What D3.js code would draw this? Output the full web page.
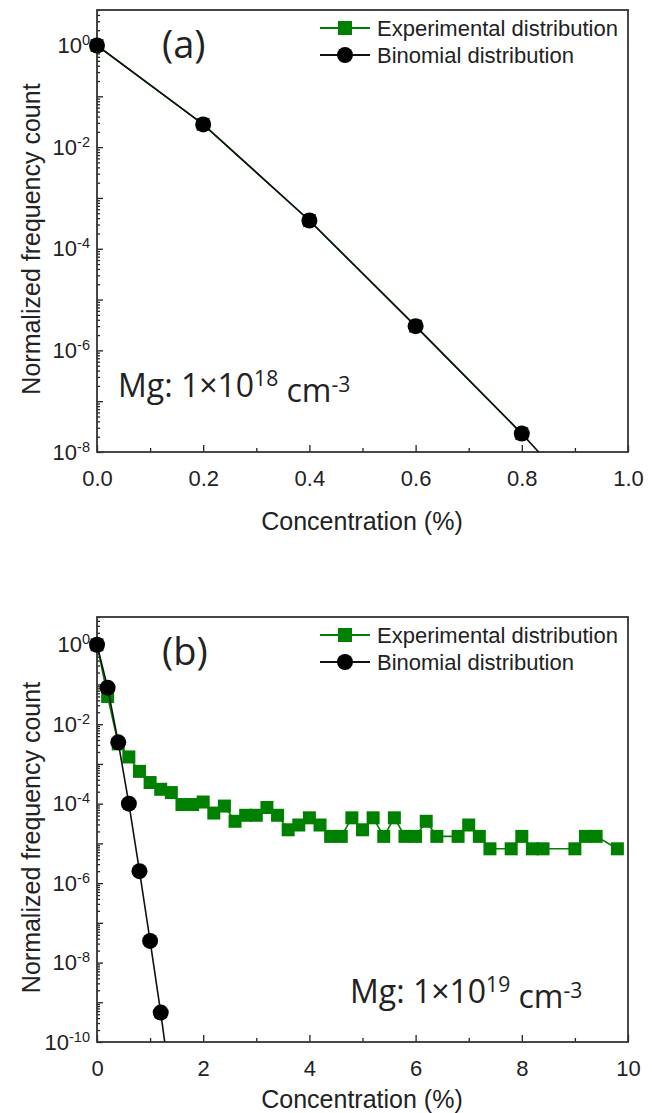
<!DOCTYPE html>
<html>
<head>
<meta charset="utf-8">
<script src="https://cdn.jsdelivr.net/npm/d3@7"></script>
<style>
  body { margin: 0; background: #fff; }
  text { font-family: "Liberation Sans", Arial, sans-serif; fill: #222; }
  .note { font-family: "Open Sans", sans-serif; }
</style>
</head>
<body>
<svg width="652" height="1113"></svg>
<script>
// ---- data, panel (a) Mg 1e18
const concA = [0, 0.2, 0.4, 0.6, 0.8, 1.0];
const expA = [1, 2.8e-2, 3.6e-4, 3.0e-6, 2.3e-8, null];
const binA = [1, 2.8e-2, 3.6e-4, 3.0e-6, 2.3e-8, 1.2e-10];
const xTicksA = [0, 0.2, 0.4, 0.6, 0.8, 1.0];
const yExpA = [0, -2, -4, -6, -8];

// ---- data, panel (b) Mg 1e19
const concB = [0, 0.2, 0.4, 0.6, 0.8, 1.0, 1.2, 1.4, 1.6, 1.8,
  2.0, 2.2, 2.4, 2.6, 2.8, 3.0, 3.2, 3.4, 3.6, 3.8,
  4.0, 4.2, 4.4, 4.6, 4.8, 5.0, 5.2, 5.4, 5.6, 5.8,
  6.0, 6.2, 6.4, 6.6, 6.8, 7.0, 7.2, 7.4, 7.6, 7.8,
  8.0, 8.2, 8.4, 8.6, 8.8, 9.0, 9.2, 9.4, 9.6, 9.8, 10.0];
const expB = [1, 5.0e-2, 3.2e-3, 1.5e-3, 6.5e-4, 3.4e-4, 2.3e-4, 1.9e-4, 9.5e-5, 9.5e-5,
  1.1e-4, 5.8e-5, 8.7e-5, 3.6e-5, 5.1e-5, 5.1e-5, 8.0e-5, 5.1e-5, 2.2e-5, 2.9e-5,
  4.4e-5, 2.9e-5, 1.5e-5, 1.5e-5, 4.4e-5, 2.2e-5, 4.4e-5, 1.5e-5, 4.4e-5, 1.5e-5,
  1.5e-5, 3.6e-5, 1.5e-5, null, 1.5e-5, 2.9e-5, 1.5e-5, 7.3e-6, null, 7.3e-6,
  1.5e-5, 7.3e-6, 7.3e-6, null, null, 7.3e-6, 1.5e-5, 1.5e-5, null, 7.3e-6, null];
const binConcB = [0, 0.2, 0.4, 0.6, 0.8, 1.0, 1.2, 1.4];
const binB = [1, 8.3e-2, 3.5e-3, 1.0e-4, 2.0e-6, 3.5e-8, 5.5e-10, 6.0e-12];
const xTicksB = [0, 2, 4, 6, 8, 10];
const yExpB = [0, -2, -4, -6, -8, -10];

const seriesNames = ["Experimental distribution", "Binomial distribution"];
const green = "#008000";

const svg = d3.select("svg");

// superscript label like 10^-2
const supLabel = (sel, base, sup) => {
  sel.text(null);
  sel.append("tspan").text(base);
  sel.append("tspan").attr("dy", "-0.55em").attr("font-size", "0.66em").text(sup);
};

const drawPanel = (p) => {
  const x = d3.scaleLinear().domain(p.xDomain).range([97, 628]);
  const y = d3.scaleLog().domain(p.yDomain).range([p.bottom, p.top]);
  const g = svg.append("g");
  const clipId = "clip" + p.id;

  g.append("clipPath").attr("id", clipId)
    .append("rect")
    .attr("x", 97).attr("y", p.top)
    .attr("width", 531).attr("height", p.bottom - p.top);

  // y ticks: decades long, 2..9 short
  const lo = Math.ceil(Math.log10(p.yDomain[0]));
  const hi = Math.floor(Math.log10(p.yDomain[1]));
  const decades = d3.range(lo, hi + 1).map((e) => Math.pow(10, e));
  const minor = [];
  d3.range(lo - 1, hi + 1).forEach((e) => {
    for (let m = 2; m <= 9; m++) {
      const v = m * Math.pow(10, e);
      if (v >= p.yDomain[0] && v <= p.yDomain[1]) minor.push(v);
    }
  });

  g.append("g").attr("transform", "translate(97,0)")
    .call(d3.axisLeft(y).tickValues(minor).tickSize(-3).tickFormat(""))
    .call((a) => a.select(".domain").remove());
  g.append("g").attr("transform", "translate(97,0)")
    .call(d3.axisLeft(y).tickValues(decades).tickSize(-6).tickFormat(""))
    .call((a) => a.select(".domain").remove());
  const yl = g.append("g").attr("transform", "translate(97,0)")
    .call(d3.axisLeft(y).tickValues(p.yExp.map((e) => Math.pow(10, e))).tickSize(0).tickPadding(7))
    .call((a) => a.select(".domain").remove());
  yl.selectAll(".tick text")
    .attr("font-size", 22)
    .attr("font-family", "Liberation Sans, Arial, sans-serif")
    .attr("fill", "#222")
    .each(function (d, i) { supLabel(d3.select(this), "10", String(p.yExp[i])); });

  // x ticks inward
  g.append("g").attr("transform", `translate(0,${p.bottom})`)
    .call(d3.axisBottom(x).tickValues(p.xMinor).tickSize(-4).tickFormat(""))
    .call((a) => a.select(".domain").remove());
  g.append("g").attr("transform", `translate(0,${p.bottom})`)
    .call(d3.axisBottom(x).tickValues(p.xTicks).tickSize(-7).tickPadding(18).tickFormat(p.xFmt))
    .call((a) => a.select(".domain").remove())
    .selectAll("text")
    .attr("font-size", 22)
    .attr("font-family", "Liberation Sans, Arial, sans-serif")
    .attr("fill", "#222");

  g.selectAll(".tick line").attr("stroke", "#222").attr("stroke-width", 1.3);

  // frame
  g.append("rect")
    .attr("x", 97).attr("y", p.top)
    .attr("width", 531).attr("height", p.bottom - p.top)
    .attr("fill", "none").attr("stroke", "#333").attr("stroke-width", 1.8);

  const line = d3.line().x((d) => x(d[0])).y((d) => y(d[1]));
  const expPts = p.conc.map((c, i) => [c, p.exp[i]]).filter((d) => d[1] != null);
  const binPts = p.binConc.map((c, i) => [c, p.bin[i]]);

  g.append("path").datum(expPts)
    .attr("clip-path", `url(#${clipId})`)
    .attr("fill", "none").attr("stroke", green).attr("stroke-width", 1.6)
    .attr("d", line);
  g.selectAll(".sq").data(expPts).enter().append("rect")
    .attr("class", "sq")
    .attr("x", (d) => x(d[0]) - p.sq / 2)
    .attr("y", (d) => y(d[1]) - p.sq / 2)
    .attr("width", p.sq).attr("height", p.sq)
    .attr("fill", green);

  g.append("path").datum(binPts)
    .attr("clip-path", `url(#${clipId})`)
    .attr("fill", "none").attr("stroke", "#111").attr("stroke-width", 1.6)
    .attr("d", line);
  g.selectAll(".dot").data(binPts.filter((d) => d[1] >= p.yDomain[0])).enter().append("circle")
    .attr("class", "dot")
    .attr("cx", (d) => x(d[0]))
    .attr("cy", (d) => y(d[1]))
    .attr("r", 8)
    .attr("fill", "#000");

  // legend
  const lg = g.append("g").attr("transform", `translate(320,${p.top + 18})`);
  seriesNames.forEach((name, i) => {
    const row = lg.append("g").attr("transform", `translate(0,${i * 27})`);
    row.append("line").attr("x1", 0).attr("x2", 50)
      .attr("stroke", i === 0 ? green : "#111").attr("stroke-width", 1.8);
    if (i === 0) {
      row.append("rect").attr("x", 18).attr("y", -7).attr("width", 14).attr("height", 14).attr("fill", green);
    } else {
      row.append("circle").attr("cx", 25).attr("r", 8).attr("fill", "#000");
    }
    row.append("text").attr("x", 57).attr("dy", "0.36em")
      .attr("font-size", 22).text(name);
  });

  // panel letter
  g.append("text").attr("class", "note")
    .attr("x", 162).attr("y", p.top + 48)
    .attr("font-size", 38).text(p.letter);

  // Mg note
  const mg = g.append("text").attr("class", "note")
    .attr("x", p.noteX).attr("y", p.noteY).attr("font-size", 32);
  mg.append("tspan").text("Mg: 1\u00d710");
  mg.append("tspan").attr("dy", "-0.5em").attr("font-size", "0.66em").text(p.noteExp);
  mg.append("tspan").attr("dy", "0.5em").text(" cm");
  mg.append("tspan").attr("dy", "-0.5em").attr("font-size", "0.66em").text("-3");

  // axis titles
  g.append("text")
    .attr("transform", `translate(31,${(p.top + p.bottom) / 2 + 8}) rotate(-90)`)
    .attr("text-anchor", "middle").attr("dy", "0.35em")
    .attr("font-size", 25).text("Normalized frequency count");
  g.append("text")
    .attr("x", 362).attr("y", p.xTitleY)
    .attr("text-anchor", "middle")
    .attr("font-size", 25).text("Concentration (%)");
};

drawPanel({
  id: "a", letter: "(a)", top: 10, bottom: 452,
  xDomain: [0, 1], yDomain: [1e-8, 5],
  xTicks: xTicksA, xMinor: [0.1, 0.3, 0.5, 0.7, 0.9], xFmt: d3.format(".1f"),
  yExp: yExpA,
  conc: concA, exp: expA, binConc: concA, bin: binA, sq: 13,
  noteX: 118, noteY: 397, noteExp: "18", xTitleY: 530
});

drawPanel({
  id: "b", letter: "(b)", top: 617, bottom: 1042,
  xDomain: [0, 10], yDomain: [1e-10, 5],
  xTicks: xTicksB, xMinor: [1, 3, 5, 7, 9], xFmt: d3.format("d"),
  yExp: yExpB,
  conc: concB, exp: expB, binConc: binConcB, bin: binB, sq: 13,
  noteX: 350, noteY: 1003, noteExp: "19", xTitleY: 1108
});
</script>
</body>
</html>
